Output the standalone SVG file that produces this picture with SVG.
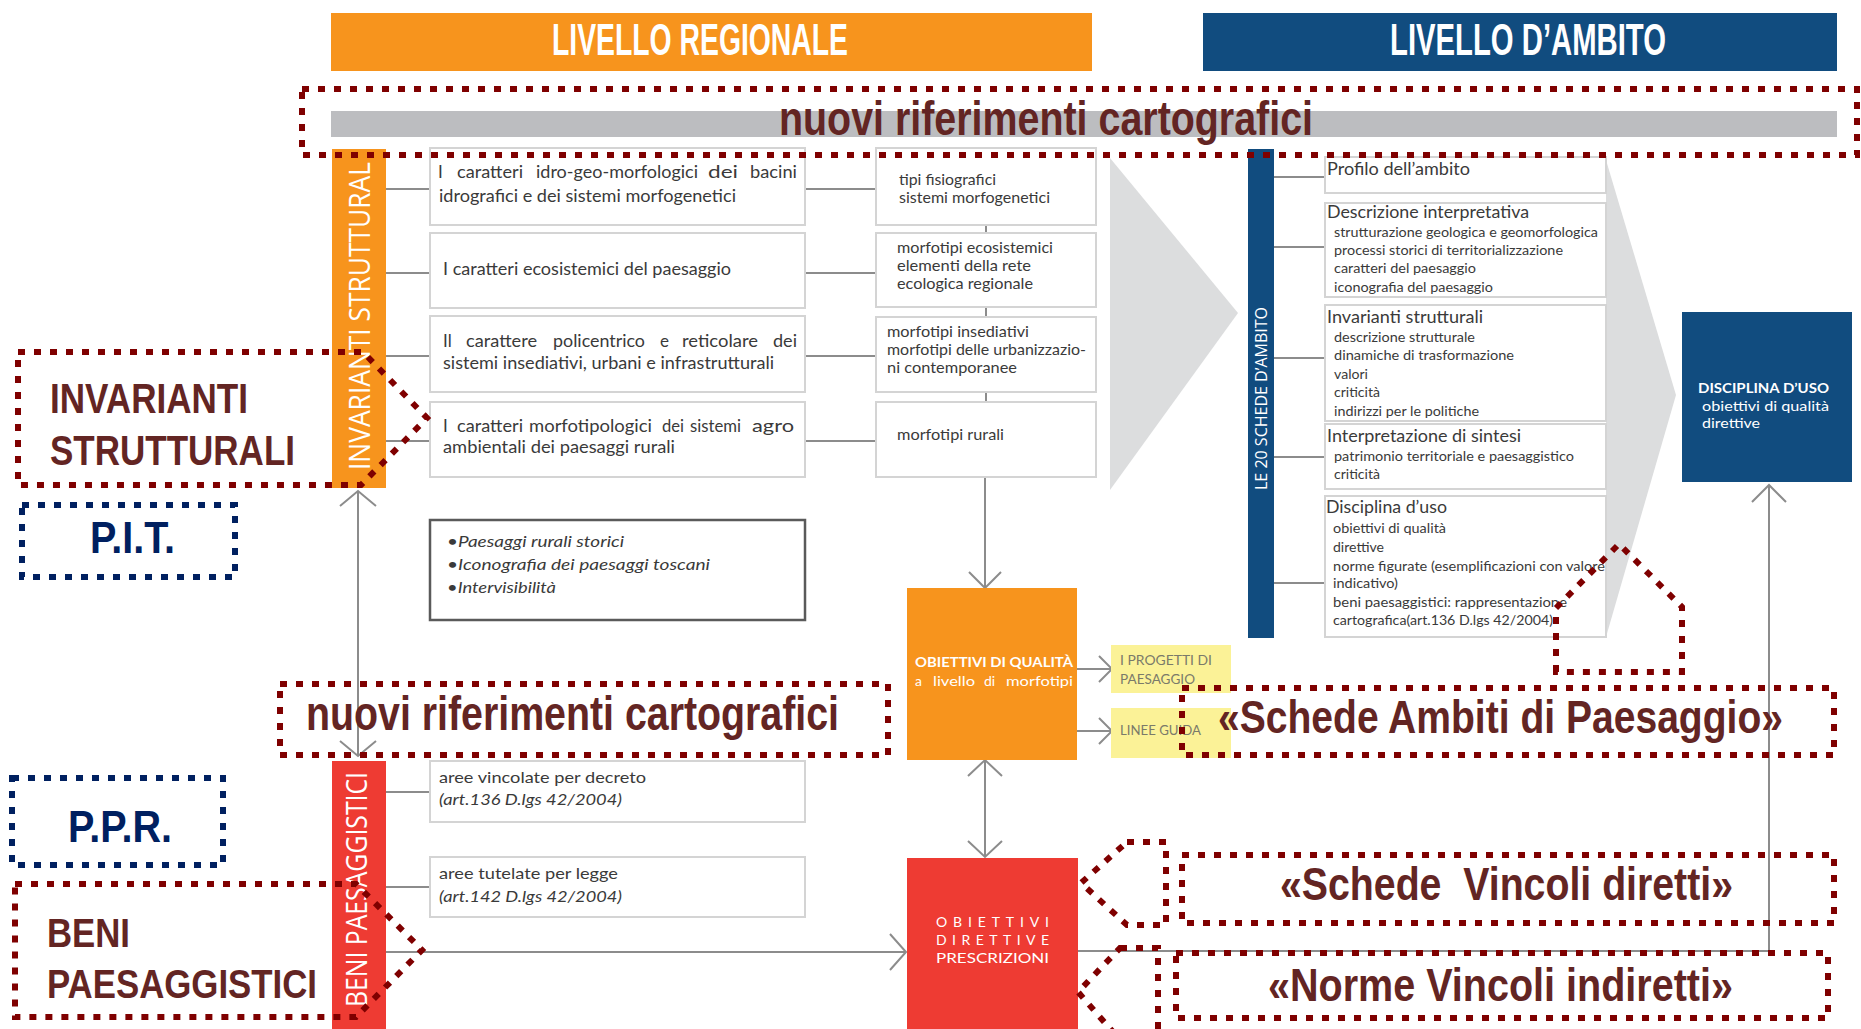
<svg xmlns="http://www.w3.org/2000/svg" width="1861" height="1029" viewBox="0 0 1861 1029">
<style>
.bx{fill:#fff;stroke:#d4d4d4;stroke-width:2}
.ln{stroke:#8c8c8c;stroke-width:2;fill:none}
.dr{fill:none;stroke:#7f0000;stroke-width:6;stroke-dasharray:7 9}
.db{fill:none;stroke:#002060;stroke-width:6;stroke-dasharray:7 9}
.big{font-family:"Liberation Sans",Arial,sans-serif;font-weight:bold;fill:#632523}
.nv{font-family:"Liberation Sans",Arial,sans-serif;font-weight:bold;fill:#002060}
.hd{font-family:"Liberation Sans",Arial,sans-serif;font-weight:bold;fill:#fff;font-size:44px}
.s{font-family:Lato,"Open Sans",sans-serif;fill:#3a3a3a}
.vt{font-family:"Open Sans",Lato,sans-serif;fill:#fff}
.w{font-family:Lato,"Open Sans",sans-serif;fill:#fff}
</style>
<rect width="1861" height="1029" fill="#fff"/>

<g id="header-regionale">
<rect x="331" y="13" width="761" height="58" fill="#f7941d"/>
<text class="hd" x="552" y="55" textLength="296" lengthAdjust="spacingAndGlyphs">LIVELLO REGIONALE</text>
</g>
<g id="header-ambito">
<rect x="1203" y="13" width="634" height="58" fill="#114c7f"/>
<text class="hd" x="1390" y="55" textLength="276" lengthAdjust="spacingAndGlyphs">LIVELLO D’AMBITO</text>
</g>
<g id="grey-bar"><rect x="331" y="111" width="1506" height="26" fill="#bcbdc0"/></g>

<g id="chevrons">
<polygon points="1110,158 1238,313 1110,490" fill="#dcddde"/>
<polygon points="1606,160 1676,395 1606,637" fill="#dcddde"/>
</g>

<g id="connectors">
<line class="ln" x1="386" y1="189" x2="430" y2="189"/>
<line class="ln" x1="386" y1="273" x2="430" y2="273"/>
<line class="ln" x1="386" y1="356" x2="430" y2="356"/>
<line class="ln" x1="386" y1="441" x2="430" y2="441"/>
<line class="ln" x1="805" y1="189" x2="876" y2="189"/>
<line class="ln" x1="805" y1="273" x2="876" y2="273"/>
<line class="ln" x1="805" y1="356" x2="876" y2="356"/>
<line class="ln" x1="805" y1="441" x2="876" y2="441"/>
<line class="ln" x1="986" y1="225" x2="986" y2="233"/>
<line class="ln" x1="986" y1="307" x2="986" y2="317"/>
<line class="ln" x1="986" y1="392" x2="986" y2="402"/>
<line class="ln" x1="985" y1="477" x2="985" y2="588"/>
<polyline class="ln" points="969,572 985,588 1001,572"/>
<line class="ln" x1="358" y1="491" x2="358" y2="756"/>
<polyline class="ln" points="340,506 358,491 376,506"/>
<polyline class="ln" points="340,741 358,756 376,741"/>
<line class="ln" x1="1077" y1="669" x2="1112" y2="669"/>
<polyline class="ln" points="1099,656 1112,669 1099,682"/>
<line class="ln" x1="1077" y1="731" x2="1112" y2="731"/>
<polyline class="ln" points="1099,718 1112,731 1099,744"/>
<line class="ln" x1="985" y1="760" x2="985" y2="857"/>
<polyline class="ln" points="968,776 985,760 1002,776"/>
<polyline class="ln" points="968,841 985,857 1002,841"/>
<line class="ln" x1="386" y1="792" x2="430" y2="792"/>
<line class="ln" x1="386" y1="887" x2="430" y2="887"/>
<line class="ln" x1="386" y1="952" x2="905" y2="952"/>
<polyline class="ln" points="890,934 906,952 890,970"/>
<polyline class="ln" points="1078,951 1769,951 1769,485"/>
<polyline class="ln" points="1752,502 1769,485 1786,502"/>
<line class="ln" x1="1274" y1="177" x2="1325" y2="177"/>
<line class="ln" x1="1274" y1="247" x2="1325" y2="247"/>
<line class="ln" x1="1274" y1="358" x2="1325" y2="358"/>
<line class="ln" x1="1274" y1="457" x2="1325" y2="457"/>
<line class="ln" x1="1274" y1="583" x2="1325" y2="583"/>
</g>

<g id="bar-invarianti">
<rect x="332" y="149" width="54" height="339" fill="#f7941d"/>
<text class="vt" transform="translate(370,470) rotate(-90)" font-size="30" textLength="308" lengthAdjust="spacingAndGlyphs">INVARIANTI STRUTTURAL</text>
</g>

<g id="box-idro">
<rect class="bx" x="430" y="148" width="375" height="77"/>
<text class="s" y="178" font-size="17"><tspan x="438">I</tspan><tspan x="457" textLength="66" lengthAdjust="spacingAndGlyphs">caratteri</tspan><tspan x="536" textLength="162" lengthAdjust="spacingAndGlyphs">idro-geo-morfologici</tspan><tspan x="708" textLength="30" lengthAdjust="spacingAndGlyphs">dei</tspan><tspan x="750" textLength="47" lengthAdjust="spacingAndGlyphs">bacini</tspan></text>
<text class="s" x="439" y="202" font-size="17" textLength="297" lengthAdjust="spacingAndGlyphs">idrografici e dei sistemi morfogenetici</text>
</g>
<g id="box-eco">
<rect class="bx" x="430" y="233" width="375" height="75"/>
<text class="s" x="443" y="275" font-size="17" textLength="288" lengthAdjust="spacingAndGlyphs">I caratteri ecosistemici del paesaggio</text>
</g>
<g id="box-poli">
<rect class="bx" x="430" y="316" width="375" height="76"/>
<text class="s" y="347" font-size="17"><tspan x="443">Il</tspan><tspan x="466" textLength="71" lengthAdjust="spacingAndGlyphs">carattere</tspan><tspan x="553" textLength="92" lengthAdjust="spacingAndGlyphs">policentrico</tspan><tspan x="660">e</tspan><tspan x="682" textLength="76" lengthAdjust="spacingAndGlyphs">reticolare</tspan><tspan x="773" textLength="24" lengthAdjust="spacingAndGlyphs">dei</tspan></text>
<text class="s" x="443" y="369" font-size="17" textLength="331" lengthAdjust="spacingAndGlyphs">sistemi insediativi, urbani e infrastrutturali</text>
</g>
<g id="box-agro">
<rect class="bx" x="430" y="402" width="375" height="75"/>
<text class="s" y="432" font-size="17"><tspan x="443">I</tspan><tspan x="457" textLength="66" lengthAdjust="spacingAndGlyphs">caratteri</tspan><tspan x="529" textLength="123" lengthAdjust="spacingAndGlyphs">morfotipologici</tspan><tspan x="662" textLength="22" lengthAdjust="spacingAndGlyphs">dei</tspan><tspan x="690" textLength="51" lengthAdjust="spacingAndGlyphs">sistemi</tspan><tspan x="752" textLength="42" lengthAdjust="spacingAndGlyphs">agro</tspan></text>
<text class="s" x="443" y="453" font-size="17" textLength="232" lengthAdjust="spacingAndGlyphs">ambientali dei paesaggi rurali</text>
</g>

<g id="box-tipi">
<rect class="bx" x="876" y="148" width="220" height="77"/>
<text class="s" x="899" y="185" font-size="15" textLength="97" lengthAdjust="spacingAndGlyphs">tipi fisiografici</text>
<text class="s" x="899" y="203" font-size="15" textLength="151" lengthAdjust="spacingAndGlyphs">sistemi morfogenetici</text>
</g>
<g id="box-morfo-eco">
<rect class="bx" x="876" y="233" width="220" height="74"/>
<text class="s" x="897" y="253" font-size="15" textLength="156" lengthAdjust="spacingAndGlyphs">morfotipi ecosistemici</text>
<text class="s" x="897" y="271" font-size="15" textLength="134" lengthAdjust="spacingAndGlyphs">elementi della rete</text>
<text class="s" x="897" y="289" font-size="15" textLength="136" lengthAdjust="spacingAndGlyphs">ecologica regionale</text>
</g>
<g id="box-morfo-ins">
<rect class="bx" x="876" y="317" width="220" height="75"/>
<text class="s" x="887" y="337" font-size="15" textLength="142" lengthAdjust="spacingAndGlyphs">morfotipi insediativi</text>
<text class="s" x="887" y="355" font-size="15" textLength="199" lengthAdjust="spacingAndGlyphs">morfotipi delle urbanizzazio-</text>
<text class="s" x="887" y="373" font-size="15" textLength="130" lengthAdjust="spacingAndGlyphs">ni contemporanee</text>
</g>
<g id="box-morfo-rur">
<rect class="bx" x="876" y="402" width="220" height="75"/>
<text class="s" x="897" y="440" font-size="15" textLength="107" lengthAdjust="spacingAndGlyphs">morfotipi rurali</text>
</g>

<g id="box-italic">
<rect x="430" y="520" width="375" height="100" fill="#fff" stroke="#5a5a5a" stroke-width="2.5"/>
<text class="s" x="447" y="547" font-size="16" font-style="italic" textLength="177" lengthAdjust="spacingAndGlyphs">•Paesaggi rurali storici</text>
<text class="s" x="447" y="570" font-size="16" font-style="italic" textLength="263" lengthAdjust="spacingAndGlyphs">•Iconografia dei paesaggi toscani</text>
<text class="s" x="447" y="593" font-size="16" font-style="italic" textLength="109" lengthAdjust="spacingAndGlyphs">•Intervisibilità</text>
</g>

<g id="bar-beni">
<rect x="332" y="761" width="54" height="270" fill="#ee3b33"/>
<text class="vt" transform="translate(367,1007) rotate(-90)" font-size="29" textLength="235" lengthAdjust="spacingAndGlyphs">BENI PAESAGGISTICI</text>
</g>
<g id="box-vincolate">
<rect class="bx" x="430" y="761" width="375" height="61"/>
<text class="s" x="439" y="783" font-size="16" textLength="207" lengthAdjust="spacingAndGlyphs">aree vincolate per decreto</text>
<text class="s" x="439" y="805" font-size="16" font-style="italic" textLength="183" lengthAdjust="spacingAndGlyphs">(art.136 D.lgs 42/2004)</text>
</g>
<g id="box-tutelate">
<rect class="bx" x="430" y="857" width="375" height="60"/>
<text class="s" x="439" y="879" font-size="16" textLength="179" lengthAdjust="spacingAndGlyphs">aree tutelate per legge</text>
<text class="s" x="439" y="902" font-size="16" font-style="italic" textLength="183" lengthAdjust="spacingAndGlyphs">(art.142 D.lgs 42/2004)</text>
</g>

<g id="box-obiettivi-qualita">
<rect x="907" y="588" width="170" height="172" fill="#f7941d"/>
<text class="w" x="915" y="667" font-size="14" font-weight="bold" textLength="158" lengthAdjust="spacingAndGlyphs">OBIETTIVI DI QUALITÀ</text>
<text class="w" y="686" font-size="14"><tspan x="915">a</tspan><tspan x="933" textLength="42" lengthAdjust="spacingAndGlyphs">livello</tspan><tspan x="984">di</tspan><tspan x="1006" textLength="67" lengthAdjust="spacingAndGlyphs">morfotipi</tspan></text>
</g>
<g id="box-progetti">
<rect x="1111" y="645" width="120" height="48" fill="#fbf297"/>
<text x="1120" y="665" font-family="Lato,sans-serif" font-size="13" fill="#7a7a6a" textLength="92" lengthAdjust="spacingAndGlyphs">I PROGETTI DI</text>
<text x="1120" y="684" font-family="Lato,sans-serif" font-size="13" fill="#7a7a6a" textLength="75" lengthAdjust="spacingAndGlyphs">PAESAGGIO</text>
</g>
<g id="box-linee">
<rect x="1111" y="708" width="120" height="50" fill="#fbf297"/>
<text x="1120" y="735" font-family="Lato,sans-serif" font-size="13" fill="#7a7a6a" textLength="81" lengthAdjust="spacingAndGlyphs">LINEE GUIDA</text>
</g>
<g id="box-obiettivi-prescrizioni">
<rect x="907" y="858" width="171" height="175" fill="#ee3b33"/>
<text class="w" x="936" y="927" font-size="14" textLength="113" lengthAdjust="spacing">OBIETTIVI</text>
<text class="w" x="936" y="945" font-size="14" textLength="113" lengthAdjust="spacing">DIRETTIVE</text>
<text class="w" x="936" y="963" font-size="14" textLength="113" lengthAdjust="spacingAndGlyphs">PRESCRIZIONI</text>
</g>

<g id="bar-schede">
<rect x="1248" y="149" width="26" height="489" fill="#114c7f"/>
<text class="vt" transform="translate(1267,490) rotate(-90)" font-size="17" textLength="183" lengthAdjust="spacingAndGlyphs">LE 20 SCHEDE D’AMBITO</text>
</g>
<g id="box-profilo">
<rect class="bx" x="1325" y="157" width="281" height="36"/>
<text class="s" x="1327" y="175" font-size="17" textLength="143" lengthAdjust="spacingAndGlyphs">Profilo dell’ambito</text>
</g>
<g id="box-descrizione">
<rect class="bx" x="1325" y="203" width="281" height="94"/>
<text class="s" x="1327" y="218" font-size="17" textLength="202" lengthAdjust="spacingAndGlyphs">Descrizione interpretativa</text>
<text class="s" x="1334" y="237" font-size="14" textLength="264" lengthAdjust="spacingAndGlyphs">strutturazione geologica e geomorfologica</text>
<text class="s" x="1334" y="255" font-size="14" textLength="229" lengthAdjust="spacingAndGlyphs">processi storici di territorializzazione</text>
<text class="s" x="1334" y="273" font-size="14" textLength="142" lengthAdjust="spacingAndGlyphs">caratteri del paesaggio</text>
<text class="s" x="1334" y="292" font-size="14" textLength="159" lengthAdjust="spacingAndGlyphs">iconografia del paesaggio</text>
</g>
<g id="box-invarianti">
<rect class="bx" x="1325" y="305" width="281" height="116"/>
<text class="s" x="1327" y="323" font-size="17" textLength="156" lengthAdjust="spacingAndGlyphs">Invarianti strutturali</text>
<text class="s" x="1334" y="342" font-size="14" textLength="141" lengthAdjust="spacingAndGlyphs">descrizione strutturale</text>
<text class="s" x="1334" y="360" font-size="14" textLength="180" lengthAdjust="spacingAndGlyphs">dinamiche di trasformazione</text>
<text class="s" x="1334" y="379" font-size="14" textLength="34" lengthAdjust="spacingAndGlyphs">valori</text>
<text class="s" x="1334" y="397" font-size="14" textLength="46" lengthAdjust="spacingAndGlyphs">criticità</text>
<text class="s" x="1334" y="416" font-size="14" textLength="145" lengthAdjust="spacingAndGlyphs">indirizzi per le politiche</text>
</g>
<g id="box-interpretazione">
<rect class="bx" x="1325" y="424" width="281" height="65"/>
<text class="s" x="1327" y="442" font-size="17" textLength="194" lengthAdjust="spacingAndGlyphs">Interpretazione di sintesi</text>
<text class="s" x="1334" y="461" font-size="14" textLength="240" lengthAdjust="spacingAndGlyphs">patrimonio territoriale e paesaggistico</text>
<text class="s" x="1334" y="479" font-size="14" textLength="46" lengthAdjust="spacingAndGlyphs">criticità</text>
</g>
<g id="box-disciplina">
<rect class="bx" x="1325" y="496" width="281" height="141"/>
<text class="s" x="1326" y="513" font-size="17" textLength="121" lengthAdjust="spacingAndGlyphs">Disciplina d’uso</text>
<text class="s" x="1333" y="533" font-size="14" textLength="113" lengthAdjust="spacingAndGlyphs">obiettivi di qualità</text>
<text class="s" x="1333" y="552" font-size="14" textLength="51" lengthAdjust="spacingAndGlyphs">direttive</text>
<text class="s" x="1333" y="571" font-size="14" textLength="272" lengthAdjust="spacingAndGlyphs">norme figurate (esemplificazioni con valore</text>
<text class="s" x="1333" y="588" font-size="14" textLength="65" lengthAdjust="spacingAndGlyphs">indicativo)</text>
<text class="s" x="1333" y="607" font-size="14" textLength="234" lengthAdjust="spacingAndGlyphs">beni paesaggistici: rappresentazione</text>
<text class="s" x="1333" y="625" font-size="14" textLength="220" lengthAdjust="spacingAndGlyphs">cartografica(art.136 D.lgs 42/2004)</text>
</g>
<g id="box-disciplina-uso">
<rect x="1682" y="312" width="170" height="170" fill="#114c7f"/>
<text class="w" x="1698" y="393" font-size="14" font-weight="bold" textLength="131" lengthAdjust="spacingAndGlyphs">DISCIPLINA D’USO</text>
<text class="w" x="1702" y="411" font-size="14" textLength="127" lengthAdjust="spacingAndGlyphs">obiettivi di qualità</text>
<text class="w" x="1702" y="428" font-size="14" textLength="58" lengthAdjust="spacingAndGlyphs">direttive</text>
</g>

<g id="note-riferimenti-top">
<rect class="dr" x="302" y="89" width="1555" height="66"/>
<text class="big" x="779" y="135" font-size="48" textLength="534" lengthAdjust="spacingAndGlyphs">nuovi riferimenti cartografici</text>
</g>
<g id="note-invarianti">
<path class="dr" d="M18,352 H363 L427,418 L361,485 H18 Z"/>
<text class="big" x="50" y="413" font-size="42" textLength="198" lengthAdjust="spacingAndGlyphs">INVARIANTI</text>
<text class="big" x="50" y="465" font-size="42" textLength="245" lengthAdjust="spacingAndGlyphs">STRUTTURALI</text>
</g>
<g id="note-pit">
<rect class="db" x="22" y="505" width="213" height="72"/>
<text class="nv" x="90" y="553" font-size="44" textLength="85" lengthAdjust="spacingAndGlyphs">P.I.T.</text>
</g>
<g id="note-riferimenti-mid">
<rect class="dr" x="280" y="684" width="608" height="71"/>
<text class="big" x="306" y="730" font-size="48" textLength="533" lengthAdjust="spacingAndGlyphs">nuovi riferimenti cartografici</text>
</g>
<g id="note-schede-ambiti">
<rect class="dr" x="1182" y="688" width="652" height="67"/>
<path class="dr" d="M1556,672 V608 L1619,544 L1682,607 V672 Z"/>
<text class="big" x="1218" y="733" font-size="46" textLength="565" lengthAdjust="spacingAndGlyphs">«Schede Ambiti di Paesaggio»</text>
</g>
<g id="note-ppr">
<rect class="db" x="12" y="778" width="211" height="87"/>
<text class="nv" x="68" y="842" font-size="44" textLength="104" lengthAdjust="spacingAndGlyphs">P.P.R.</text>
</g>
<g id="note-beni">
<path class="dr" d="M15,884 H356 L422,950 L356,1017 H15 Z"/>
<text class="big" x="47" y="947" font-size="41" textLength="83" lengthAdjust="spacingAndGlyphs">BENI</text>
<text class="big" x="47" y="998" font-size="41" textLength="270" lengthAdjust="spacingAndGlyphs">PAESAGGISTICI</text>
</g>
<g id="note-vincoli-diretti">
<path class="dr" d="M1127,842 H1166 V925 H1127 L1081,883 Z"/>
<rect class="dr" x="1182" y="855" width="652" height="68"/>
<text class="big" x="1280" y="900" font-size="46" xml:space="preserve" textLength="453" lengthAdjust="spacingAndGlyphs">«Schede  Vincoli diretti»</text>
</g>
<g id="note-vincoli-indiretti">
<path class="dr" d="M1120,948 H1158 V1040 H1120 L1078,992 Z"/>
<rect class="dr" x="1176" y="953" width="652" height="65"/>
<text class="big" x="1268" y="1001" font-size="46" textLength="465" lengthAdjust="spacingAndGlyphs">«Norme Vincoli indiretti»</text>
</g>
</svg>
